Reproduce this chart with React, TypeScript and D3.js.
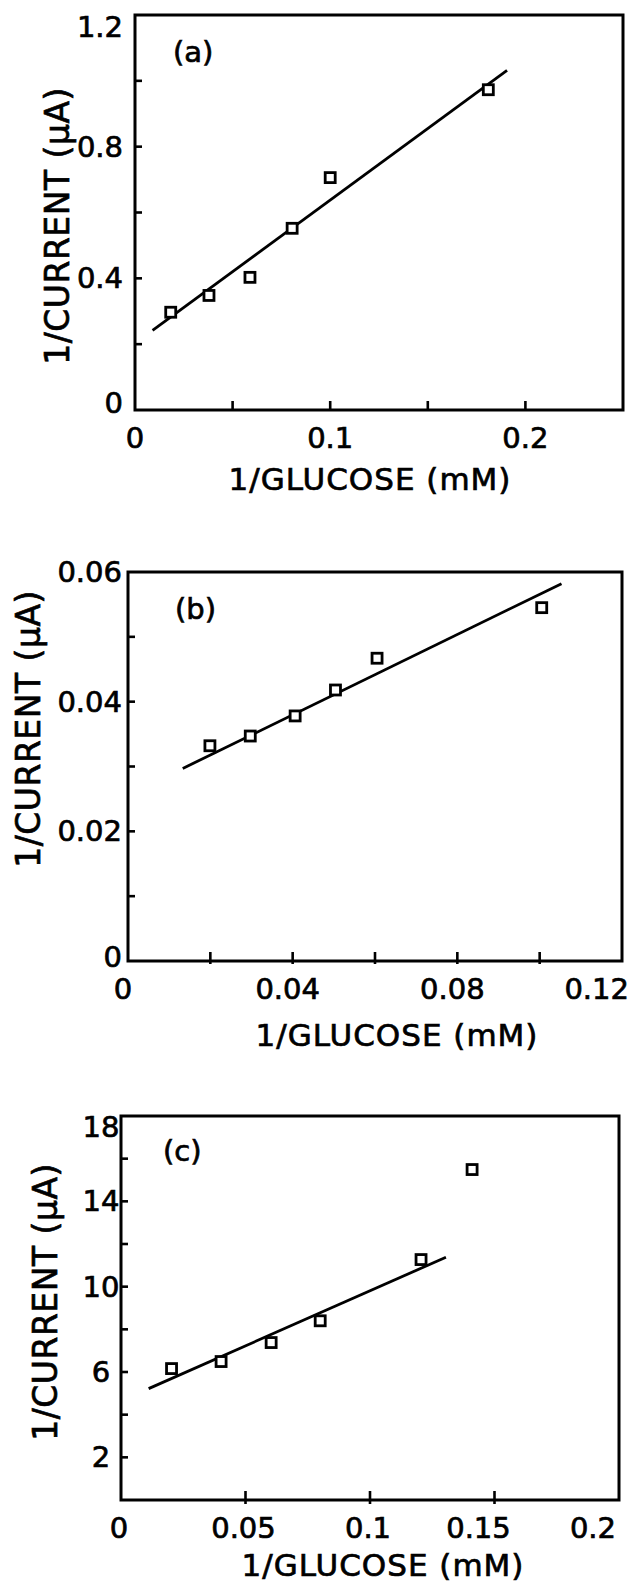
import React from "react";
import * as d3 from "d3";

// ---------- Panel (a) data ----------
const xA = [0.0183, 0.0379, 0.0589, 0.0805, 0.1, 0.181];
const yA = [0.297, 0.348, 0.403, 0.552, 0.706, 0.973];
const fitXA = [0.009, 0.1906];
const fitYA = [0.242, 1.0316];
const xTickA = [0.05, 0.1, 0.15, 0.2];
const xLabelValA = [0, 0.1, 0.2];
const xLabelA = ["0", "0.1", "0.2"];
const yTickA = [0.2, 0.4, 0.6, 0.8, 1.0];
const yLabelValA = [0, 0.4, 0.8, 1.2];
const yLabelA = ["0", "0.4", "0.8", "1.2"];

// ---------- Panel (b) data ----------
const xB = [0.0199, 0.0297, 0.0406, 0.0504, 0.0605, 0.1005];
const yB = [0.0332, 0.0347, 0.0378, 0.0418, 0.0467, 0.0545];
const fitXB = [0.0133, 0.1053];
const fitYB = [0.0297, 0.0582];
const xTickB = [0.02, 0.04, 0.06, 0.08, 0.1];
const xLabelValB = [0, 0.04, 0.08, 0.12];
const xLabelB = ["0", "0.04", "0.08", "0.12"];
const yTickB = [0.01, 0.02, 0.03, 0.04, 0.05];
const yLabelValB = [0, 0.02, 0.04, 0.06];
const yLabelB = ["0", "0.02", "0.04", "0.06"];

// ---------- Panel (c) data ----------
const xC = [0.0203, 0.0402, 0.0603, 0.08, 0.1205, 0.141];
const yC = [6.16, 6.49, 7.38, 8.4, 11.27, 15.49];
const fitXC = [0.0111, 0.1305];
const fitYC = [5.22, 11.38];
const xTickC = [0.05, 0.1, 0.15];
const xLabelValC = [0, 0.05, 0.1, 0.15, 0.2];
const xLabelC = ["0", "0.05", "0.1", "0.15", "0.2"];
const yTickC = [2, 4, 6, 8, 10, 12, 14, 16];
const yLabelValC = [2, 6, 10, 14, 18];
const yLabelC = ["2", "6", "10", "14", "18"];

const xTitle = "1/GLUCOSE (mM)";
const yTitle = "1/CURRENT (µA)";

const FONT = "'DejaVu Sans', Verdana, sans-serif";

type PanelCfg = {
  letter: string;
  xDomain: [number, number];
  yDomain: [number, number];
  left: number; right: number; top: number; bottom: number;
  xs: number[]; ys: number[];
  fitX: number[]; fitY: number[];
  xTicks: number[]; xLabelVals: number[]; xLabels: string[];
  yTicks: number[]; yLabelVals: number[]; yLabels: string[];
  xLabelShift: (i: number, n: number) => number;
  lastLabelEnd?: number;
  yLabelX: number; yLabelAnchor: string;
  yTopPad: number; yBotPad: number;
  xTitleX: number; xTitleY: number;
  yTitleX: number; yTitleY: number;
  letterX: number; letterY: number;
  bottomTickOut: number;
};

const panels: PanelCfg[] = [
  {
    letter: "(a)", xDomain: [0, 0.25], yDomain: [0, 1.2],
    left: 135, right: 623, top: 15, bottom: 410,
    xs: xA, ys: yA, fitX: fitXA, fitY: fitYA,
    xTicks: xTickA, xLabelVals: xLabelValA, xLabels: xLabelA,
    yTicks: yTickA, yLabelVals: yLabelValA, yLabels: yLabelA,
    xLabelShift: () => 0,
    yLabelX: 123, yLabelAnchor: "end", yTopPad: 12, yBotPad: 7,
    xTitleX: 370, xTitleY: 490, yTitleX: 57, yTitleY: 226,
    letterX: 173, letterY: 62, bottomTickOut: 0,
  },
  {
    letter: "(b)", xDomain: [0, 0.12], yDomain: [0, 0.06],
    left: 128, right: 622, top: 572, bottom: 961,
    xs: xB, ys: yB, fitX: fitXB, fitY: fitYB,
    xTicks: xTickB, xLabelVals: xLabelValB, xLabels: xLabelB,
    yTicks: yTickB, yLabelVals: yLabelValB, yLabels: yLabelB,
    xLabelShift: () => -5, lastLabelEnd: 629,
    yLabelX: 122, yLabelAnchor: "end", yTopPad: 0, yBotPad: 4,
    xTitleX: 397, xTitleY: 1046, yTitleX: 28, yTitleY: 729,
    letterX: 175, letterY: 619, bottomTickOut: 3,
  },
  {
    letter: "(c)", xDomain: [0, 0.2], yDomain: [0, 18],
    left: 121, right: 619, top: 1116, bottom: 1500,
    xs: xC, ys: yC, fitX: fitXC, fitY: fitYC,
    xTicks: xTickC, xLabelVals: xLabelValC, xLabels: xLabelC,
    yTicks: yTickC, yLabelVals: yLabelValC, yLabels: yLabelC,
    xLabelShift: (i) => (i >= 3 ? -16 : -2), lastLabelEnd: 616,
    yLabelX: 101, yLabelAnchor: "middle", yTopPad: 11, yBotPad: 0,
    xTitleX: 383, xTitleY: 1576, yTitleX: 45, yTitleY: 1302,
    letterX: 163, letterY: 1161, bottomTickOut: 4,
  },
];

function Panel({ cfg }: { cfg: PanelCfg }) {
  const x = d3.scaleLinear().domain(cfg.xDomain).range([cfg.left, cfg.right]);
  const y = d3.scaleLinear().domain(cfg.yDomain).range([cfg.bottom, cfg.top]);
  const fitPts: [number, number][] = cfg.fitX.map((v, i) => [v, cfg.fitY[i]]);
  const line = d3.line<[number, number]>().x((d) => x(d[0])).y((d) => y(d[1]));
  const sq = 10;
  const n = cfg.xLabels.length;
  return (
    <g fontFamily={FONT} fill="#000" stroke="none">
      <rect x={cfg.left} y={cfg.top} width={cfg.right - cfg.left} height={cfg.bottom - cfg.top}
        fill="none" stroke="#000" strokeWidth={3} />
      {cfg.yTicks.map((v) => (
        <line key={"yt" + v} x1={cfg.left} x2={cfg.left + 7} y1={y(v)} y2={y(v)} stroke="#000" strokeWidth={2.6} />
      ))}
      {cfg.xTicks.map((v) => (
        <line key={"xt" + v} x1={x(v)} x2={x(v)} y1={cfg.bottom + cfg.bottomTickOut} y2={cfg.bottom - 9} stroke="#000" strokeWidth={2.6} />
      ))}
      <g stroke="#000" strokeWidth={0.7}>
        {cfg.yLabelVals.map((v, i) => {
          const yy = Math.max(cfg.top + cfg.yTopPad, Math.min(cfg.bottom - cfg.yBotPad, y(v)));
          return (
            <text key={"yl" + v} x={cfg.yLabelX} y={yy} textAnchor={cfg.yLabelAnchor as any}
              dominantBaseline="central" fontSize={29}>{cfg.yLabels[i]}</text>
          );
        })}
        {cfg.xLabelVals.map((v, i) => {
          const isLast = i === n - 1 && cfg.lastLabelEnd !== undefined;
          return (
            <text key={"xl" + v} x={isLast ? cfg.lastLabelEnd : x(v) + cfg.xLabelShift(i, n)} y={cfg.bottom + 38}
              textAnchor={isLast ? "end" : "middle"} fontSize={29}>{cfg.xLabels[i]}</text>
          );
        })}
        <text x={cfg.xTitleX} y={cfg.xTitleY} textAnchor="middle" fontSize={31} letterSpacing={1}>{xTitle}</text>
        <text transform={`translate(${cfg.yTitleX},${cfg.yTitleY}) rotate(-90)`} textAnchor="middle"
          dominantBaseline="central" fontSize={33} letterSpacing={0.5}>{yTitle}</text>
        <text x={cfg.letterX} y={cfg.letterY} fontSize={29}>{cfg.letter}</text>
      </g>
      <path d={line(fitPts) || ""} fill="none" stroke="#000" strokeWidth={2.8} />
      {cfg.xs.map((v, i) => (
        <rect key={"p" + i} x={x(v) - sq / 2} y={y(cfg.ys[i]) - sq / 2} width={sq} height={sq}
          fill="#fff" stroke="#000" strokeWidth={2.8} />
      ))}
    </g>
  );
}

export default function App() {
  return (
    <svg width={630} height={1583} style={{ position: "absolute", left: 0, top: 0, background: "#fff" }}>
      <rect x={0} y={0} width={630} height={1583} fill="#fff" />
      {panels.map((p) => (
        <Panel key={p.letter} cfg={p} />
      ))}
    </svg>
  );
}
